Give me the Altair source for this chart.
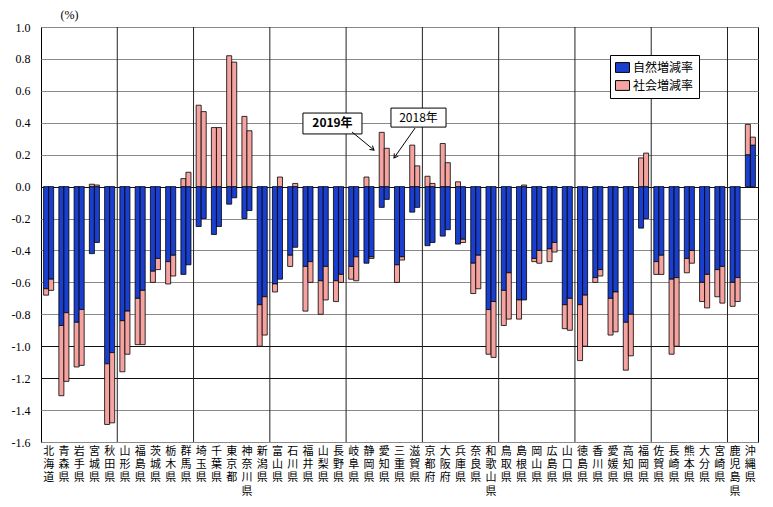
import altair as alt
import pandas as pd

prefs = ["北海道", "青森県", "岩手県", "宮城県", "秋田県", "山形県", "福島県", "茨城県", "栃木県", "群馬県",
         "埼玉県", "千葉県", "東京都", "神奈川県", "新潟県", "富山県", "石川県", "福井県", "山梨県", "長野県",
         "岐阜県", "静岡県", "愛知県", "三重県", "滋賀県", "京都府", "大阪府", "兵庫県", "奈良県", "和歌山県",
         "鳥取県", "島根県", "岡山県", "広島県", "山口県", "徳島県", "香川県", "愛媛県", "高知県", "福岡県",
         "佐賀県", "長崎県", "熊本県", "大分県", "宮崎県", "鹿児島県", "沖縄県"]

natural_2019 = [-0.64, -0.87, -0.85, -0.42, -1.11, -0.84, -0.70, -0.53, -0.47, -0.55,
                -0.25, -0.30, -0.11, -0.20, -0.74, -0.61, -0.43, -0.50, -0.59, -0.59,
                -0.50, -0.48, -0.13, -0.49, -0.16, -0.37, -0.31, -0.36, -0.48, -0.77,
                -0.65, -0.71, -0.45, -0.39, -0.74, -0.74, -0.57, -0.70, -0.85, -0.26,
                -0.47, -0.58, -0.45, -0.60, -0.52, -0.60, 0.20]
social_2019 = [-0.04, -0.44, -0.28, 0.015, -0.38, -0.32, -0.29, -0.07, -0.14, 0.05,
               0.51, 0.37, 0.82, 0.44, -0.26, -0.05, -0.07, -0.28, -0.21, -0.13,
               -0.08, 0.06, 0.34, -0.11, 0.26, 0.065, 0.27, 0.03, -0.19, -0.28,
               -0.22, -0.12, -0.02, -0.08, -0.15, -0.35, -0.03, -0.23, -0.30, 0.18,
               -0.08, -0.47, -0.09, -0.12, -0.17, -0.15, 0.19]
natural_2018 = [-0.58, -0.79, -0.77, -0.35, -1.04, -0.78, -0.65, -0.45, -0.43, -0.49,
                -0.20, -0.25, -0.07, -0.15, -0.69, -0.58, -0.38, -0.47, -0.50, -0.55,
                -0.44, -0.44, -0.08, -0.44, -0.13, -0.35, -0.27, -0.33, -0.43, -0.72,
                -0.54, -0.71, -0.40, -0.35, -0.70, -0.68, -0.52, -0.66, -0.80, -0.20,
                -0.43, -0.57, -0.40, -0.55, -0.50, -0.57, 0.26]
social_2018 = [-0.07, -0.43, -0.35, 0.01, -0.44, -0.27, -0.34, -0.07, -0.13, 0.09,
               0.47, 0.37, 0.78, 0.35, -0.24, 0.06, 0.02, -0.13, -0.21, -0.05,
               -0.15, -0.01, 0.24, -0.02, 0.13, 0.02, 0.15, -0.02, -0.21, -0.35,
               -0.29, 0.01, -0.08, -0.06, -0.20, -0.32, -0.04, -0.25, -0.26, 0.21,
               -0.12, -0.43, -0.08, -0.21, -0.23, -0.15, 0.05]

years = ["2019", "2018"]
components = ["自然増減率", "社会増減率"]
colors = ["#1A3FCF", "#F4A3A0"]
y_ticks = [1.0, 0.8, 0.6, 0.4, 0.2, 0.0, -0.2, -0.4, -0.6, -0.8, -1.0, -1.2, -1.4, -1.6]
v_grid_index = [5, 10, 15, 20, 25, 30, 35, 40, 45]

# annotation callouts (positions in category-index units / data values)
ann_labels = ["2019年", "2018年"]
ann_bold = [True, False]
ann_box_x1 = [17.17, 22.94]
ann_box_x2 = [21.04, 26.55]
ann_box_y1 = [0.461, 0.492]
ann_box_y2 = [0.330, 0.373]
ann_arrow_x1 = [20.39, 24.52]
ann_arrow_y1 = [0.342, 0.367]
ann_arrow_x2 = [21.83, 23.14]
ann_arrow_y2 = [0.229, 0.179]
ann_arrow_angle = [39, 125]

rows = []
for i, p in enumerate(prefs):
    for yr, nat, soc in (("2019", natural_2019, social_2019), ("2018", natural_2018, social_2018)):
        rows.append(dict(pref=p, year=yr, comp=components[0], order=0, value=nat[i]))
        rows.append(dict(pref=p, year=yr, comp=components[1], order=1, value=soc[i]))
df = pd.DataFrame(rows)

ann = pd.DataFrame(dict(label=ann_labels, bold=ann_bold, bx1=ann_box_x1, bx2=ann_box_x2,
                        by1=ann_box_y1, by2=ann_box_y2, ax1=ann_arrow_x1, ay1=ann_arrow_y1,
                        ax2=ann_arrow_x2, ay2=ann_arrow_y2, ang=ann_arrow_angle))
ann["cx"] = (ann["bx1"] + ann["bx2"]) / 2
ann["cy"] = (ann["by1"] + ann["by2"]) / 2

W, H = 717, 415
JP = "Noto Sans CJK JP"
yscale = alt.Scale(domain=[-1.6, 1.0], nice=False, zero=False)
idx_scale = alt.Scale(domain=[0, 47], nice=False, zero=False)

yaxis = alt.Axis(values=y_ticks, ticks=False, domain=False, labelPadding=11,
                 labelExpr="replace(format(datum.value, '.1f'), '−', '-')",
                 labelFont="Liberation Serif", labelFontSize=12, labelColor="black",
                 grid=True,
                 gridColor={"condition": {"test": "abs(datum.value) < 0.001 || abs(datum.value + 1) < 0.001 || abs(datum.value + 1.2) < 0.001",
                                          "value": "#111111"},
                            "value": "#8a8a8a"},
                 gridWidth=1,
                 titleAngle=0, titleX=19, titleY=-13, titleAlign="left",
                 titleBaseline="middle", titleFont="Liberation Serif",
                 titleFontSize=12, titleFontWeight="normal", titleColor="black")


def yenc(field):
    return alt.Y(field, scale=yscale, title="(%)", axis=yaxis)


bars = alt.Chart(df).transform_stack(
    stack="value", groupby=["pref", "year"], as_=["v0", "v1"],
    sort=[alt.SortField(field="order", order="ascending")]
).mark_bar(stroke="black", strokeWidth=0.8).encode(
    x=alt.X("pref:N", sort=prefs, title=None,
            scale=alt.Scale(paddingInner=0.34, paddingOuter=0.17),
            axis=alt.Axis(labelAngle=0, labelExpr="split(datum.label, '')", labelFont=JP,
                          labelFontSize=11, labelLineHeight=13.4, labelBaseline="top",
                          labelPadding=3, ticks=False, domain=False, grid=False,
                          labelColor="black", labelOverlap=False)),
    xOffset=alt.XOffset("year:N", sort=years),
    y=yenc("v0:Q"),
    y2="v1:Q",
    color=alt.Color("comp:N", scale=alt.Scale(domain=components, range=colors),
                    legend=alt.Legend(title=None, orient="none", legendX=569, legendY=28,
                                      fillColor="white", strokeColor="black", padding=5,
                                      symbolType="M-1,-0.7L1,-0.7L1,0.7L-1,0.7Z", symbolSize=196,
                                      symbolStrokeColor="black", symbolStrokeWidth=1,
                                      symbolOpacity=1, labelFont=JP, labelFontSize=12,
                                      labelColor="black", rowPadding=3, labelOffset=3)),
)

vgrid = alt.Chart(pd.DataFrame({"k": v_grid_index})).mark_rule(color="#222222", strokeWidth=1).encode(
    x=alt.X("k:Q", scale=idx_scale, axis=None)
)

boxes = alt.Chart(ann).mark_rect(fill="white", stroke="black", strokeWidth=1).encode(
    x=alt.X("bx1:Q", scale=idx_scale, axis=None), x2="bx2:Q",
    y=yenc("by1:Q"), y2="by2:Q",
)

arrows = alt.Chart(ann).mark_rule(color="black", strokeWidth=1).encode(
    x=alt.X("ax1:Q", scale=idx_scale, axis=None), x2="ax2:Q",
    y=yenc("ay1:Q"), y2="ay2:Q",
)

heads = alt.Chart(ann).mark_point(shape="M-1,-0.6L0,0L-1,0.6", filled=False, stroke="black",
                                  strokeWidth=1, size=64, opacity=1).encode(
    x=alt.X("ax2:Q", scale=idx_scale, axis=None),
    y=yenc("ay2:Q"),
    angle=alt.Angle("ang:Q", scale=None),
)

text_bold = alt.Chart(ann).transform_filter("datum.bold").mark_text(
    font=JP, fontSize=12, fontWeight="bold", color="black").encode(
    x=alt.X("cx:Q", scale=idx_scale, axis=None),
    y=yenc("cy:Q"),
    text="label:N",
)
text_reg = alt.Chart(ann).transform_filter("!datum.bold").mark_text(
    font=JP, fontSize=12, fontWeight="normal", color="black").encode(
    x=alt.X("cx:Q", scale=idx_scale, axis=None),
    y=yenc("cy:Q"),
    text="label:N",
)

chart = alt.layer(bars, vgrid, boxes, arrows, heads, text_bold, text_reg).resolve_scale(
    x="independent"
).properties(
    width=W, height=H,
    autosize=alt.AutoSizeParams(type="none"),
    padding={"left": 33, "top": 19, "right": 5, "bottom": 57},
    background="white",
).configure_view(stroke="black", strokeWidth=1)

chart.save("out.html", embed_options={"renderer": "svg", "actions": False})
